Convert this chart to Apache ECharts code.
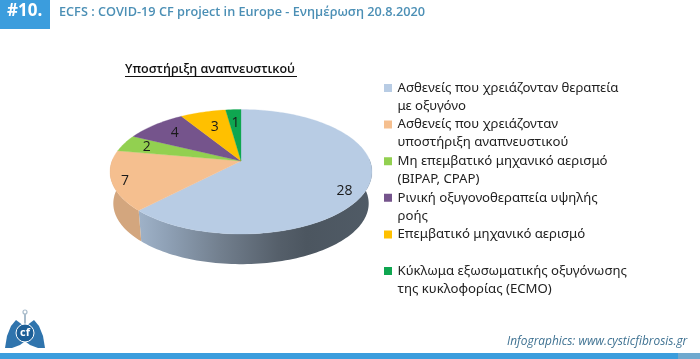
<!DOCTYPE html>
<html><head><meta charset="utf-8">
<style>html,body{margin:0;padding:0;background:#fff}#c{width:700px;height:359px}</style>
<script src="https://cdn.jsdelivr.net/npm/echarts@6/dist/echarts.min.js"></script></head>
<body><div id="c"></div>
<script>
const categories = [
  'Ασθενείς που χρειάζονταν θεραπεία\nμε οξυγόνο',
  'Ασθενείς που χρειάζονταν\nυποστήριξη αναπνευστικού',
  'Μη επεμβατικό μηχανικό αερισμό\n(BIPAP, CPAP)',
  'Ρινική οξυγονοθεραπεία υψηλής\nροής',
  'Επεμβατικό μηχανικό αερισμό\n\u00a0',
  'Κύκλωμα εξωσωματικής οξυγόνωσης\nτης κυκλοφορίας (ECMO)'
];
const values = [28, 7, 2, 4, 3, 1];
const colors = ['#b8cce4', '#f5bf8f', '#92d050', '#75548c', '#ffc000', '#0fa650'];
const chartTitle = 'Υποστήριξη αναπνευστικού';
const headerBadge = '#10.';
const headerText = 'ECFS : COVID-19 CF project in Europe - Ενημέρωση 20.8.2020';
const creditText = 'Infographics: www.cysticfibrosis.gr';

// Perspective view of the disc
const apex = [241, 161], A = 129, B = 60.4, K = 0.1727;
const wallShift = 32, wallScale = 0.975;
const labelR = [0.82, 0.9, 0.8, 0.75, 0.66, 0.7];
const labelDy = [10, 2, 0, 0, 0, 0];
const total = values.reduce((a, b) => a + b, 0);
const project = (deg, r) => {
  const t = deg * Math.PI / 180, u = r * Math.sin(t), v = r * Math.cos(t), d = 1 + K * v;
  return [apex[0] + A * u / d, apex[1] - B * v / d];
};
const toWall = p => [apex[0] + (p[0] - apex[0]) * wallScale, apex[1] + (p[1] - apex[1]) * wallScale + wallShift];
const arc = (a0, a1) => {
  const pts = [], n = Math.max(2, Math.ceil((a1 - a0) / 1.5));
  for (let i = 0; i <= n; i++) pts.push(project(a0 + (a1 - a0) * i / n, 1));
  return pts;
};
const wallGradients = [
  new echarts.graphic.LinearGradient(0, 0, 1, 0, [
    {offset: 0, color: '#9fb2c8'}, {offset: 0.12, color: '#8fa1b6'},
    {offset: 0.35, color: '#727f8e'}, {offset: 0.6, color: '#555f6a'},
    {offset: 0.72, color: '#4c5660'}, {offset: 1, color: '#505b66'}]),
  '#d3a67e'
];

function renderSlice(idx) {
  return function (params, api) {
    const v = api.value(0);
    let before = 0;
    for (let i = 0; i < idx; i++) before += values[i];
    const a0 = before / total * 360, a1 = (before + v) / total * 360;
    const children = [];
    if (a0 < 270) {
      const w0 = Math.max(a0, 88), w1 = Math.min(a1, 272);
      const rim = arc(w0, w1);
      children.push({type: 'polygon', shape: {points: rim.concat(rim.map(toWall).reverse())},
        style: {fill: wallGradients[idx] || colors[idx], stroke: null}});
    }
    children.push({type: 'polygon', shape: {points: [apex].concat(arc(a0, a1))},
      style: {fill: colors[idx], stroke: colors[idx], lineWidth: 0.3}});
    const lp = project((a0 + a1) / 2, labelR[idx]);
    children.push({type: 'text', x: lp[0], y: lp[1] + labelDy[idx],
      style: {text: String(v), fill: '#1a1a1a', font: '14px "Open Sans", sans-serif', align: 'center', verticalAlign: 'middle'}});
    return {type: 'group', children};
  };
}

const legendIcon = 'path://M0 5H8V13H0Z M0 0H0.01V0.01H0Z M0 36H0.01V36.01H0Z';

const option = {
  animation: false,
  backgroundColor: '#fff',
  title: {text: chartTitle, left: 120, top: 58,
    textStyle: {fontFamily: 'Open Sans', fontSize: 12.5, fontWeight: 600, color: '#111'}},
  legend: {
    left: 379, top: 74, orient: 'vertical', itemWidth: 9, itemHeight: 36, itemGap: 0.6,
    selectedMode: false, icon: legendIcon, itemStyle: {borderWidth: 0},
    data: categories.map(name => ({name, icon: legendIcon})),
    textStyle: {fontFamily: 'Noto Sans', fontSize: 13.2, color: '#222', lineHeight: 18}
  },
  series: categories.map((name, i) => ({
    type: 'custom', name, coordinateSystem: 'none',
    itemStyle: {color: colors[i]},
    renderItem: renderSlice(i), data: [[values[i]]], z: i === 0 || i === 1 ? 2 : 3, silent: true
  })),
  graphic: [
    {type: 'rect', shape: {x: 0, y: 0, width: 50, height: 29}, style: {fill: '#3b9ddd'}},
    {type: 'text', x: 7, y: 3, style: {text: headerBadge, fill: '#fff', font: 'bold 17px "Open Sans", sans-serif'}},
    {type: 'text', x: 59, y: 6, style: {text: headerText, fill: '#4b8fb5', font: '600 12.7px "Open Sans", sans-serif'}},
    {type: 'line', shape: {x1: 125, y1: 76.5, x2: 297, y2: 76.5}, style: {stroke: '#111', lineWidth: 1}},
    {type: 'rect', shape: {x: 0, y: 353, width: 700, height: 6}, style: {fill: '#3b9ddd'}},
    {type: 'rect', shape: {x: 678, y: 353, width: 22, height: 6}, style: {fill: '#6fa9cf'}},
    {type: 'text', x: 507, y: 336, style: {text: creditText, fill: '#3f7292', font: 'italic 11.9px "Open Sans", sans-serif'}},
    // emblem
    {type: 'line', shape: {x1: 25, y1: 314, x2: 25, y2: 328}, style: {stroke: '#a9bccb', lineWidth: 2}},
    {type: 'circle', shape: {cx: 25, cy: 312, r: 2}, style: {fill: '#fff', stroke: '#a9bccb', lineWidth: 1.2}},
    {type: 'polygon', shape: {points: [[16,320],[11,326],[7,336],[5,348],[12,348],[20,345],[24,342],[24,326]]}, style: {fill: '#2f74ad'}},
    {type: 'polygon', shape: {points: [[34,320],[39,326],[43,336],[45,348],[38,348],[30,345],[26,342],[26,326]]}, style: {fill: '#2f74ad'}},
    {type: 'circle', shape: {cx: 25, cy: 333, r: 9}, style: {fill: '#1d5f97', stroke: '#fff', lineWidth: 1}},
    {type: 'text', x: 25, y: 333, style: {text: 'cf', fill: '#fff', font: 'bold 11px "Open Sans", sans-serif', align: 'center', verticalAlign: 'middle'}}
  ]
};
echarts.init(document.getElementById('c')).setOption(option);
</script></body></html>
